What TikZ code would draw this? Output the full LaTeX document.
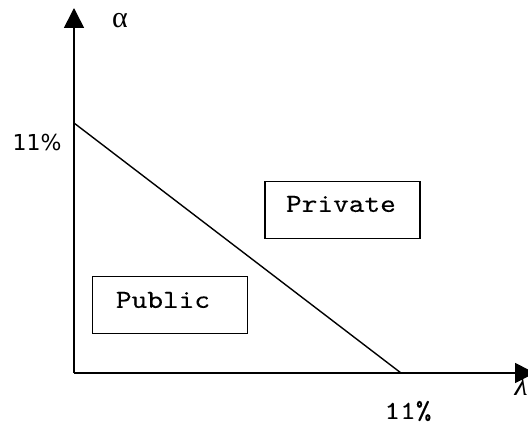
\documentclass[tikz,border=0pt]{standalone}
\usepackage{fontspec}
\newfontfamily\dejasans{DejaVu Sans}
\newfontfamily\libserif{Liberation Serif}
\newfontfamily\courlike[FakeStretch=1.15,FakeBold=0.2]{lmmono10-regular.otf}
\usetikzlibrary{arrows.meta}
\begin{document}
\begin{tikzpicture}[x=1pt,y=-1pt,
  axis/.style={line width=1.6pt,-{Triangle[length=20pt,width=20pt]}},
  edge/.style={line width=1.4pt},
  regionbox/.style={draw,line width=1.4pt,minimum width=155pt,minimum height=57pt,inner sep=0pt},
  monotext/.style={font=\fontsize{26}{28}\selectfont\courlike,inner sep=0pt}]
\useasboundingbox (0,0) rectangle (528,425);
\coordinate (O) at (74,373);
\coordinate (ytip) at (74,8);
\coordinate (xtip) at (535,373);
\coordinate (a11) at (74,123);
\coordinate (l11) at (401,373);
\draw[axis] (O) -- (ytip);
\draw[axis] (O) -- (xtip);
\draw[edge] (a11) -- (l11);
\node[font=\fontsize{30}{32}\selectfont\libserif] (alpha) at (120,21) {α};
\node[font=\fontsize{30}{32}\selectfont\libserif\itshape] (lambda) at (521,385) {λ};
\node[font=\fontsize{22}{24}\selectfont\dejasans] (ya) at (37,142) {11\%};
\node[monotext] (xa) at (408,411) {11\%};
\node[regionbox] (priv) at (342.5,210) {};
\node[monotext] (privt) at (341,204) {Private};
\node[regionbox] (pub) at (170,305) {};
\node[monotext] (pubt) at (163,300) {Public};
\end{tikzpicture}
\end{document}
